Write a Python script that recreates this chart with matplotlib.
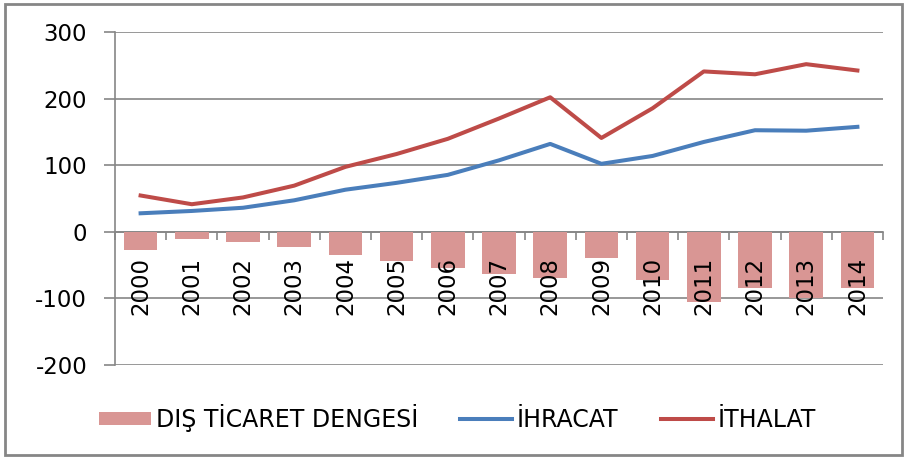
import numpy as np
import matplotlib.pyplot as plt
from matplotlib.patches import Rectangle
from matplotlib.ticker import FixedLocator

years = ["2000", "2001", "2002", "2003", "2004", "2005", "2006", "2007",
         "2008", "2009", "2010", "2011", "2012", "2013", "2014"]
ihracat = [27.8, 31.3, 36.1, 47.3, 63.2, 73.5, 85.5, 107.3, 132.0, 102.1,
           113.9, 134.9, 152.5, 151.8, 157.6]
ithalat = [54.5, 41.4, 51.6, 69.3, 97.5, 116.8, 139.6, 170.1, 202.0, 140.9,
           185.5, 240.8, 236.5, 251.7, 242.2]
denge = [-26.7, -10.1, -15.5, -22.1, -34.4, -43.3, -54.0, -62.8, -70.0, -38.8,
         -71.7, -105.9, -84.1, -99.9, -84.6]

grey = '#868686'
fs = 16.5

fig = plt.figure(figsize=(9.06, 4.59), dpi=100)
ax = fig.add_axes([115/906, 94/459, 768/906, 333/459])

x = np.arange(len(years))
b = ax.bar(x, denge, width=0.66, color='#D99694', label='DIŞ TİCARET DENGESİ', zorder=2)
l1, = ax.plot(x, ihracat, color='#4A7EBB', lw=2.9, label='İHRACAT', zorder=3)
l2, = ax.plot(x, ithalat, color='#BE4B48', lw=2.9, label='İTHALAT', zorder=3)

ax.set_xlim(-0.5, len(years) - 0.5)
ax.set_ylim(-200, 300)
ax.set_yticks([-200, -100, 0, 100, 200, 300])
ax.set_yticklabels(['-200', '-100', '0', '100', '200', '300'])
ax.yaxis.grid(True, color=grey, lw=1.2, zorder=0)
ax.set_axisbelow(True)
# year labels sit on top of the bars
ax.xaxis.set_zorder(4)

for s in ['top', 'right']:
    ax.spines[s].set_visible(False)
ax.spines['left'].set_color(grey)
ax.spines['left'].set_linewidth(1.2)
ax.spines['bottom'].set_position(('data', 0))
ax.spines['bottom'].set_color(grey)
ax.spines['bottom'].set_linewidth(1.2)
ax.spines['bottom'].set_zorder(1)

ax.set_xticks(x)
ax.set_xticklabels(years, rotation=90, va='top', ha='center')
ax.xaxis.set_minor_locator(FixedLocator(np.arange(-0.5, len(years), 1)))
ax.tick_params(axis='x', which='major', length=0, pad=18, labelsize=fs)
ax.tick_params(axis='x', which='minor', length=6, width=1.2, color=grey, direction='out')
ax.tick_params(axis='y', length=8, width=1.2, color=grey, pad=12, labelsize=fs)

fig.legend(handles=[b, l1, l2], loc='center', bbox_to_anchor=(0.505, 41/459),
           ncol=3, frameon=False, fontsize=17, handlelength=2.2, handleheight=0.5,
           handletextpad=0.2, columnspacing=1.8)

fig.patches.append(Rectangle((5/906, 4/459), 897/906, 451/459, transform=fig.transFigure,
                             fill=False, edgecolor=grey, lw=2))

fig.savefig('out.png', dpi=100)
